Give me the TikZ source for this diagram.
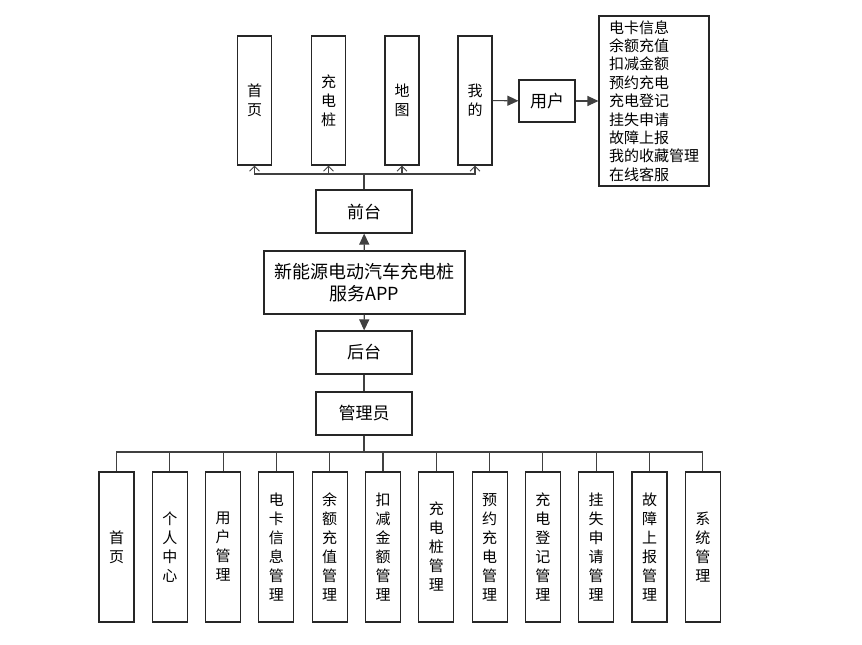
\documentclass[tikz,border=0pt]{standalone}
\usepackage{fontspec}
\setmainfont{Noto Sans CJK SC}
\usetikzlibrary{arrows.meta}

\begin{document}
\begin{tikzpicture}[x=1bp,y=-1bp,
		box/.style={draw=black!85,line width=1.1bp,fill=white,align=center,inner sep=0pt},
		tallbox/.style={box,minimum width=34bp,minimum height=129bp,font=\fontsize{15bp}{19bp}\selectfont},
		lowbox/.style={box,minimum width=35bp,minimum height=150bp,font=\fontsize{15bp}{19bp}\selectfont},
		midbox/.style={box,minimum width=96bp,minimum height=43bp,font=\fontsize{17bp}{20bp}\selectfont},
		link/.style={draw=black!75,line width=1.1bp},
		solid arrow/.style={link,-{Triangle[length=11bp,width=10bp]}},
		open arrow/.style={link,-{Straight Barb[length=5bp,width=10bp,line width=0.9bp]}}]
		\useasboundingbox (0,0) rectangle (862,645);
		% top row
		\node[tallbox] (shouye) at (254.5,100.5) {首\\页};
		\node[tallbox] (zhuang) at (328.5,100.5) {充\\电\\桩};
		\node[tallbox] (ditu) at (402,100.5) {地\\图};
		\node[tallbox] (wode) at (475,100.5) {我\\的};
		\node[box,minimum width=56bp,minimum height=42bp,font=\fontsize{17bp}{20bp}\selectfont] (yonghu) at (547,101) {用户};
		\node[box,minimum width=110bp,minimum height=170bp,align=left,font=\fontsize{15bp}{18.4bp}\selectfont] (gongneng) at (654,101)
			{电卡信息\\余额充值\\扣减金额\\预约充电\\充电登记\\挂失申请\\故障上报\\我的收藏管理\\在线客服};
		\draw[solid arrow] (wode) -- (yonghu);
		\draw[solid arrow] (yonghu) -- (gongneng);
		% middle column
		\node[midbox] (qiantai) at (364,211.5) {前台};
		\node[box,minimum width=201bp,minimum height=63bp,font=\fontsize{18bp}{22bp}\selectfont] (app) at (364.5,282.5) {新能源电动汽车充电桩\\服务APP};
		\node[midbox] (houtai) at (364,352.5) {后台};
		\node[midbox] (guanli) at (364,413.5) {管理员};
		\draw[solid arrow] (app) -- (qiantai);
		\draw[solid arrow] (app) -- (houtai);
		\draw[link] (houtai) -- (guanli);
		\coordinate (topbus) at (364,174);
		\draw[link] (qiantai) -- (topbus);
		\foreach \n in {shouye,zhuang,ditu,wode}
			\draw[open arrow] (topbus) -| (\n.south);
		% bottom row
		\coordinate (lowbus) at (364,452);
		\draw[link] (guanli) -- (lowbus);
		\foreach \lab [count=\i from 0] in {{首\\页},{个\\人\\中\\心},{用\\户\\管\\理},{电\\卡\\信\\息\\管\\理},
				{余\\额\\充\\值\\管\\理},{扣\\减\\金\\额\\管\\理},{充\\电\\桩\\管\\理},{预\\约\\充\\电\\管\\理},
				{充\\电\\登\\记\\管\\理},{挂\\失\\申\\请\\管\\理},{故\\障\\上\\报\\管\\理},{系\\统\\管\\理}}{
			\node[lowbox] (bm\i) at (116.5+53.3*\i,547) {\lab};
			\draw[link] (lowbus) -| (bm\i.north);
		}
	\end{tikzpicture}
\end{document}
